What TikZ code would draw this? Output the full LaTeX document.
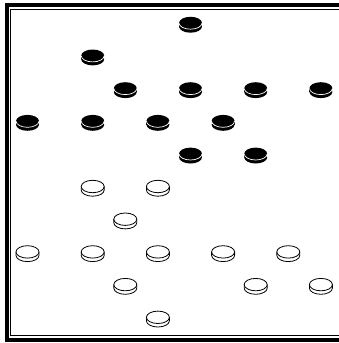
\documentclass[tikz,border=0pt]{standalone}
\usepackage{tikz}

\tikzset{
  blackdisk/.pic={
    \fill (0,3.5) ellipse[x radius=11.5,y radius=6.2];
    \fill (-11.5,0) rectangle (11.5,3.5);
    \fill (0,0) ellipse[x radius=11.5,y radius=6.2];
    \draw[white,line width=0.7pt] (11.5,0) arc[start angle=0,end angle=180,x radius=11.5,y radius=6.2];
  },
  whitedisk/.pic={
    \filldraw[fill=white,line width=0.8pt] (-11.5,0) -- (-11.5,3.5)
      arc[start angle=180,end angle=0,x radius=11.5,y radius=6.2] -- (11.5,0);
    \filldraw[fill=white,line width=0.8pt] (0,0) ellipse[x radius=11.5,y radius=6.2];
  },
}

\begin{document}
\begin{tikzpicture}[x=1pt,y=-1pt]
  \useasboundingbox (0,0) rectangle (339,343);
  \clip (0,0) rectangle (339,343);

  % Frame
  \draw[line width=4pt] (6.5,5) rectangle (352,340);
  \draw[line width=1pt] (10.5,9.5) rectangle (346,335.5);

  % Black pieces
  \foreach \i/\j in {5/0, 2/1, 3/2, 5/2, 7/2, 9/2, 0/3, 2/3, 4/3, 6/3, 5/4, 7/4}
    \pic at ({27.5+32.6*\i},{23+32.7*\j}) {blackdisk};

  % White pieces
  \foreach \i/\j in {2/5, 4/5, 3/6, 0/7, 2/7, 4/7, 6/7, 8/7, 3/8, 7/8, 9/8, 4/9}
    \pic at ({27.5+32.6*\i},{23+32.7*\j}) {whitedisk};
\end{tikzpicture}
\end{document}
